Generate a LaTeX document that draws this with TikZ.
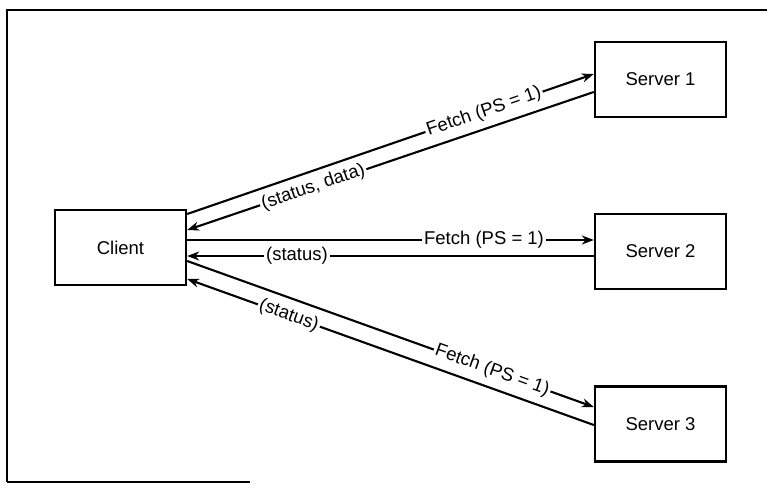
\documentclass[tikz,border=0pt]{standalone}
\usepackage{fontspec}
\setmainfont{Liberation Sans}
\usetikzlibrary{arrows.meta}
\begin{document}
\begin{tikzpicture}[x=1pt,y=-1pt,
  box/.style={draw,line width=2.4pt,minimum width=131pt,minimum height=75pt,inner sep=0pt,font=\fontsize{18.5}{22}\selectfont},
  conn/.style={line width=2.1pt,-{Stealth[length=12pt,width=9pt]}},
  lbl/.style={fill=white,inner sep=2pt,sloped,font=\fontsize{18.5}{22}\selectfont}]
\useasboundingbox (0,0) rectangle (767,488);
% frame
\draw[line width=2pt] (7,482) -- (7,10) -- (767,10);
\draw[line width=2pt] (7,482) -- (250,482);
% boxes
\node[box] (client) at (120.5,247.5) {Client};
\node[box] (s1) at (660.5,79.5) {Server 1};
\node[box] (s2) at (660.5,251.5) {Server 2};
\node[box] (s3) at (660.5,424) {Server 3};
% server 1
\draw[conn] ([yshift=33.5pt]client.east) -- node[lbl,pos=0.73]{Fetch (PS = 1)} ([yshift=5.5pt]s1.west);
\draw[conn] ([yshift=-12.5pt]s1.west) -- node[lbl,pos=0.69]{(status, data)} ([yshift=17.5pt]client.east);
% server 2
\draw[conn] ([yshift=7.5pt]client.east) -- node[lbl,pos=0.73]{Fetch (PS = 1)} ([yshift=11.5pt]s2.west);
\draw[conn] ([yshift=-4.5pt]s2.west) -- node[lbl,pos=0.73]{(status)} ([yshift=-8.5pt]client.east);
% server 3
\draw[conn] ([yshift=-13.5pt]client.east) -- node[lbl,pos=0.75]{Fetch (PS = 1)} ([yshift=17pt]s3.west);
\draw[conn] ([yshift=-1pt]s3.west) -- node[lbl,pos=0.75]{(status)} ([yshift=-31.5pt]client.east);
\end{tikzpicture}
\end{document}
